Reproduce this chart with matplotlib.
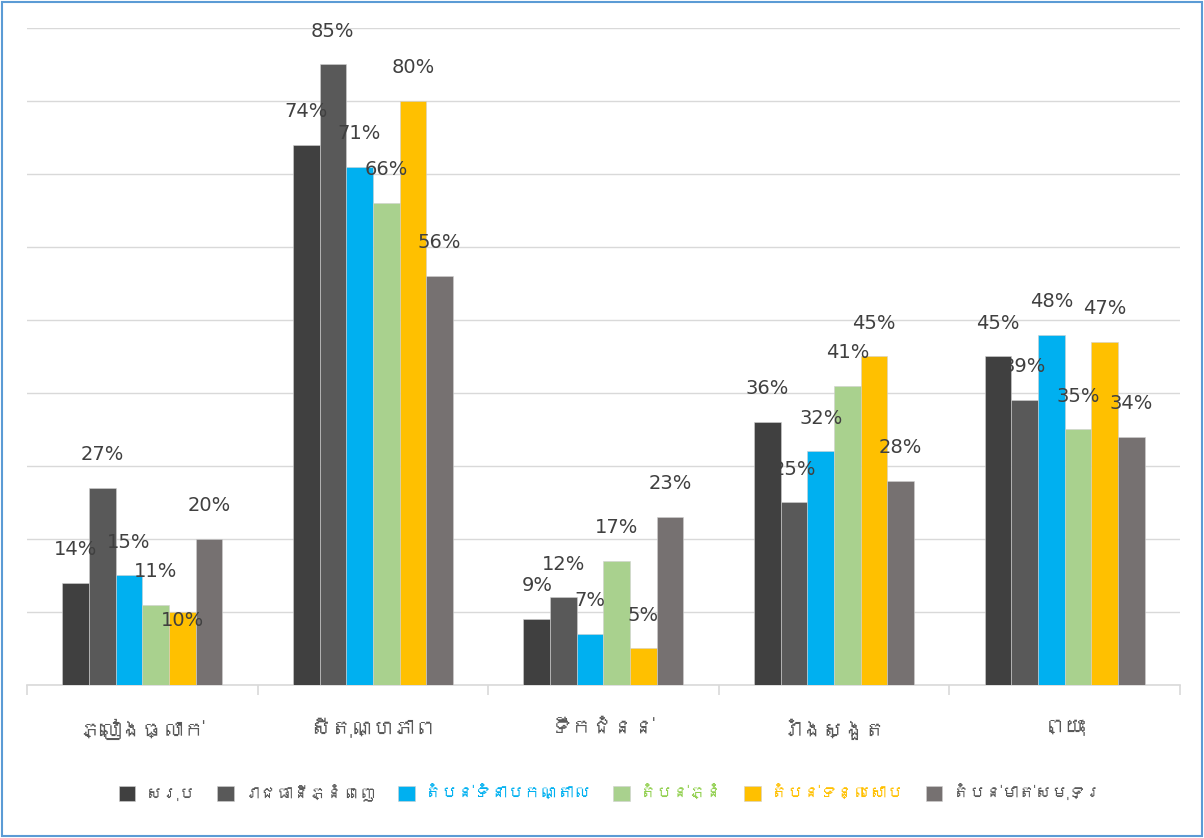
import numpy as np
import matplotlib
matplotlib.use("Agg")
import matplotlib.pyplot as plt
from matplotlib import font_manager
from matplotlib.ft2font import FT2Font
from matplotlib.patches import Rectangle

# chart data (percent)
categories = ["ភ្លៀងធ្លាក់", "សីតុណ្ហភាព", "ទឹកជំនន់", "រាំងស្ងួត", "ព្យុះ"]
series_names = ["សរុប", "រាជធានីភ្នំពេញ", "តំបន់ទំនាបកណ្តាល", "តំបន់ភ្នំ",
                "តំបន់ទន្លេសាប", "តំបន់មាត់សមុទ្រ"]
total = [14, 74, 9, 36, 45]
phnom_penh = [27, 85, 12, 25, 39]
central_plain = [15, 71, 7, 32, 48]
mountain = [11, 66, 17, 41, 35]
tonle_sap = [10, 80, 5, 45, 47]
coastal = [20, 56, 23, 28, 34]
values = [total, phnom_penh, central_plain, mountain, tonle_sap, coastal]

bar_colors = ["#404040", "#595959", "#00B0F0", "#A9D18E", "#FFC000", "#767171"]
legend_text_colors = ["#595959", "#595959", "#00B0F0", "#92D050", "#FFC000", "#595959"]


# look for a font that can draw khmer, fall back to dejavu
def khmer_font():
    for f in font_manager.fontManager.ttflist:
        try:
            if 0x1780 in FT2Font(f.fname).get_charmap():
                return f.name
        except Exception:
            pass
    return None

kf = khmer_font()
fams = [kf, "DejaVu Sans"] if kf else ["DejaVu Sans"]
plt.rcParams["font.family"] = fams

fig = plt.figure(figsize=(12.04, 8.38), dpi=100)
ax = fig.add_axes([0.0224, 0.1826, 0.9576, 0.784])

n = len(series_names)
x = np.arange(len(categories))
width = 0.694 / n

for i in range(n):
    pos = x - 0.347 + width * (i + 0.5)
    bars = ax.bar(pos, values[i], width, color=bar_colors[i], label=series_names[i],
                  zorder=3, edgecolor="#d0d0d0", linewidth=0.4)
    for b, v in zip(bars, values[i]):
        off = 24
        if i == 4 and v == 10:
            off = -6
        ax.annotate(f"{v}%", (b.get_x() + b.get_width() / 2, v), xytext=(0, off),
                    textcoords="offset points", ha="center", va="center",
                    fontsize=14, color="#404040", family="DejaVu Sans", zorder=4)

ax.set_xlim(-0.5, len(categories) - 0.5)
ax.set_ylim(0, 90)
ax.set_yticks(np.arange(0, 91, 10))
ax.yaxis.grid(True, color="#D9D9D9", linewidth=1.0, zorder=0)
ax.tick_params(axis="y", left=False, labelleft=False)
for s in ["top", "right", "left"]:
    ax.spines[s].set_visible(False)
ax.spines["bottom"].set_color("#D9D9D9")
ax.spines["bottom"].set_linewidth(1.2)

# ticks between categories, labels in the middle
ax.set_xticks(np.arange(-0.5, len(categories), 1))
ax.set_xticklabels([])
ax.set_xticks(x, minor=True)
ax.set_xticklabels(categories, minor=True, fontsize=15, fontweight="bold", color="#595959")
ax.tick_params(axis="x", which="major", length=7, color="#D9D9D9", width=1.2)
ax.tick_params(axis="x", which="minor", length=0, pad=24)

leg = fig.legend(loc="center", bbox_to_anchor=(0.507, 0.054), ncol=n, frameon=False,
                 fontsize=12, handlelength=1.0, handleheight=1.0, columnspacing=1.3,
                 handletextpad=0.6)
for t, c in zip(leg.get_texts(), legend_text_colors):
    t.set_color(c)

# blue frame round the whole chart
fig.patches.append(Rectangle((0.002, 0.002), 0.996, 0.996, transform=fig.transFigure,
                             fill=False, edgecolor="#5B9BD5", linewidth=1.5))

fig.savefig("out.png", dpi=100)
